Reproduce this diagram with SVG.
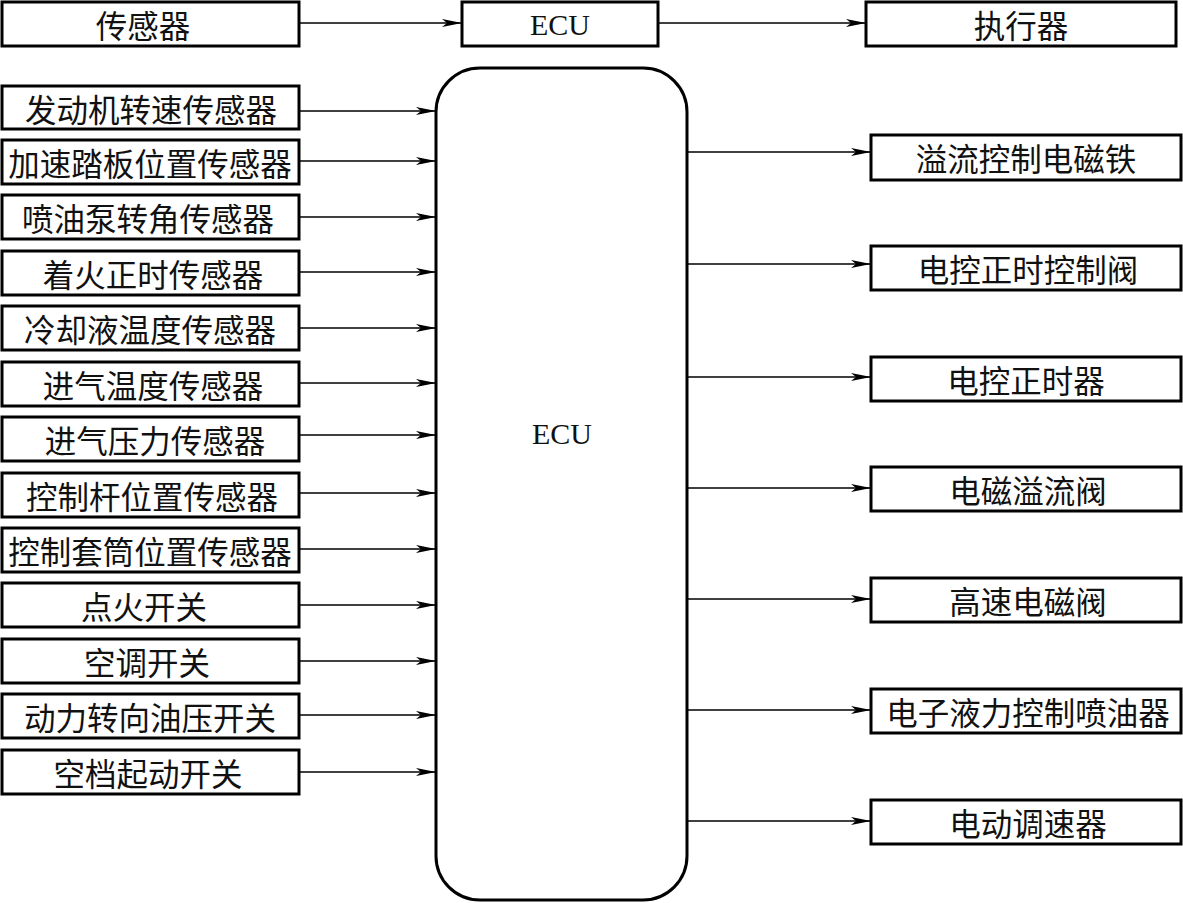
<svg xmlns="http://www.w3.org/2000/svg" width="1183" height="903" viewBox="0 0 1183 903">
<style>
.box{fill:#fff;stroke:#000;stroke-width:3}
.t{font-family:"Noto Sans CJK SC","Noto Sans CJK TC",sans-serif;font-size:31.5px;text-anchor:middle;dominant-baseline:central;fill:#111}
.e{font-family:"Liberation Serif",serif;font-size:30px;text-anchor:middle;dominant-baseline:central;fill:#111}
.c{stroke:#000;stroke-width:1.5;fill:none;marker-end:url(#ah)}
</style>
<defs>
<marker id="ah" viewBox="0 0 20 8" refX="20" refY="4" markerWidth="20" markerHeight="8" markerUnits="userSpaceOnUse" orient="auto">
<path d="M0,0 L20,4 L0,8 L5,4 Z" fill="#000"/>
</marker>
</defs>
<g id="connectors">
<line class="c" x1="299" y1="23" x2="462" y2="23"/>
<line class="c" x1="658" y1="23" x2="866" y2="23"/>
<line class="c" x1="299" y1="111" x2="436" y2="111"/>
<line class="c" x1="299" y1="161" x2="436" y2="161"/>
<line class="c" x1="299" y1="217" x2="436" y2="217"/>
<line class="c" x1="299" y1="272" x2="436" y2="272"/>
<line class="c" x1="299" y1="328" x2="436" y2="328"/>
<line class="c" x1="299" y1="383" x2="436" y2="383"/>
<line class="c" x1="299" y1="435" x2="436" y2="435"/>
<line class="c" x1="299" y1="493" x2="436" y2="493"/>
<line class="c" x1="299" y1="549" x2="436" y2="549"/>
<line class="c" x1="299" y1="605" x2="436" y2="605"/>
<line class="c" x1="299" y1="661" x2="436" y2="661"/>
<line class="c" x1="299" y1="715" x2="436" y2="715"/>
<line class="c" x1="299" y1="772" x2="436" y2="772"/>
<line class="c" x1="687" y1="152" x2="871" y2="152"/>
<line class="c" x1="687" y1="264" x2="871" y2="264"/>
<line class="c" x1="687" y1="377" x2="871" y2="377"/>
<line class="c" x1="687" y1="488" x2="871" y2="488"/>
<line class="c" x1="687" y1="599" x2="871" y2="599"/>
<line class="c" x1="687" y1="710" x2="871" y2="710"/>
<line class="c" x1="687" y1="821" x2="871" y2="821"/>
</g>
<g id="hdr-sensor"><rect class="box" x="2" y="2" width="297" height="44"/><text class="t" x="143" y="24">传感器</text></g>
<g id="hdr-ecu"><rect class="box" x="462" y="2" width="196" height="44"/><text class="e" x="560" y="24">ECU</text></g>
<g id="hdr-act"><rect class="box" x="866" y="2" width="310" height="44"/><text class="t" x="1021" y="24">执行器</text></g>
<g id="ecu"><rect class="box" x="436" y="68" width="251" height="832" rx="44" ry="44"/><text class="e" x="562" y="433">ECU</text></g>
<g id="s1"><rect class="box" x="2" y="86" width="297" height="43"/><text class="t" x="151" y="108">发动机转速传感器</text></g>
<g id="s2"><rect class="box" x="2" y="140" width="297" height="44"/><text class="t" x="150" y="162">加速踏板位置传感器</text></g>
<g id="s3"><rect class="box" x="2" y="195" width="297" height="44"/><text class="t" x="148" y="217">喷油泵转角传感器</text></g>
<g id="s4"><rect class="box" x="2" y="251" width="297" height="44"/><text class="t" x="153" y="273">着火正时传感器</text></g>
<g id="s5"><rect class="box" x="2" y="306" width="297" height="44"/><text class="t" x="150" y="328">冷却液温度传感器</text></g>
<g id="s6"><rect class="box" x="2" y="362" width="297" height="44"/><text class="t" x="153" y="384">进气温度传感器</text></g>
<g id="s7"><rect class="box" x="2" y="417" width="297" height="44"/><text class="t" x="155" y="439">进气压力传感器</text></g>
<g id="s8"><rect class="box" x="2" y="473" width="297" height="44"/><text class="t" x="152" y="495">控制杆位置传感器</text></g>
<g id="s9"><rect class="box" x="2" y="528" width="297" height="44"/><text class="t" x="150" y="550">控制套筒位置传感器</text></g>
<g id="s10"><rect class="box" x="2" y="583" width="297" height="44"/><text class="t" x="144" y="605">点火开关</text></g>
<g id="s11"><rect class="box" x="2" y="639" width="297" height="44"/><text class="t" x="147" y="661">空调开关</text></g>
<g id="s12"><rect class="box" x="2" y="694" width="297" height="44"/><text class="t" x="150" y="716">动力转向油压开关</text></g>
<g id="s13"><rect class="box" x="2" y="750" width="297" height="44"/><text class="t" x="148" y="772">空档起动开关</text></g>
<g id="a1"><rect class="box" x="871" y="135" width="310" height="45"/><text class="t" x="1026" y="157">溢流控制电磁铁</text></g>
<g id="a2"><rect class="box" x="871" y="246" width="310" height="44"/><text class="t" x="1028" y="268">电控正时控制阀</text></g>
<g id="a3"><rect class="box" x="871" y="357" width="310" height="44"/><text class="t" x="1026" y="379">电控正时器</text></g>
<g id="a4"><rect class="box" x="871" y="467" width="310" height="44"/><text class="t" x="1028" y="489">电磁溢流阀</text></g>
<g id="a5"><rect class="box" x="871" y="578" width="310" height="44"/><text class="t" x="1028" y="600">高速电磁阀</text></g>
<g id="a6"><rect class="box" x="871" y="689" width="310" height="44"/><text class="t" x="1028" y="711">电子液力控制喷油器</text></g>
<g id="a7"><rect class="box" x="871" y="800" width="310" height="44"/><text class="t" x="1028" y="822">电动调速器</text></g>
</svg>
